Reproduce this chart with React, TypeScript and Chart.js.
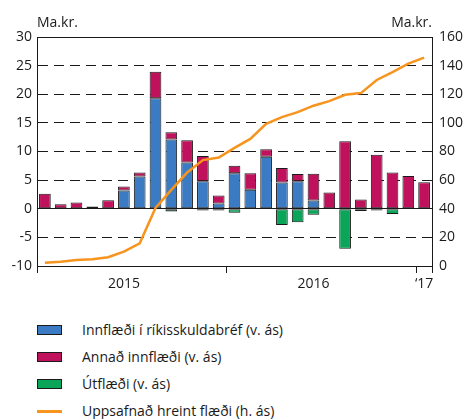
import React, { useEffect, useRef } from 'react';
import { Chart, registerables } from 'chart.js';

Chart.register(...registerables);

const FONT = '"Open Sans", "DejaVu Sans", sans-serif';

const months = [
  'jan 2015', 'feb 2015', 'mar 2015', 'apr 2015', 'maí 2015', 'jún 2015',
  'júl 2015', 'ágú 2015', 'sep 2015', 'okt 2015', 'nóv 2015', 'des 2015',
  'jan 2016', 'feb 2016', 'mar 2016', 'apr 2016', 'maí 2016', 'jún 2016',
  'júl 2016', 'ágú 2016', 'sep 2016', 'okt 2016', 'nóv 2016', 'des 2016',
  'jan 2017',
];

// x-axis year labels shown under the given month index
const yearTickIndex = [5, 17, 24];
const yearTickText = ['2015', '2016', '\u201817'];

// Left axis (v. ás), ma.kr.
const govBondInflow = [
  null, null, null, null, null, 3.2, 5.65, 19.3, 12.1, 8.1, 4.8, 0.9,
  6.2, 3.3, 9.1, 4.6, 4.8, 1.45, null, null, null, null, null, null, null,
];
const otherInflow = [
  2.6, 0.8, 1.1, 0.4, 1.5, 0.7, 0.7, 4.65, 1.25, 3.85, 4.4, 1.4,
  1.3, 2.9, 1.3, 2.5, 1.25, 4.65, 2.85, 11.8, 1.6, 9.45, 6.35, 5.7, 4.65,
];
const outflow = [
  null, null, null, null, null, null, null, null, -0.5, -0.1, -0.3, -0.3,
  -0.7, -0.1, -0.1, -2.85, -2.35, -1.05, -0.1, -7.0, -0.4, -0.3, -0.9, null, null,
];
// Right axis (h. ás), ma.kr.
const cumulativeNet = [
  2.3, 3.0, 4.2, 4.7, 6.1, 10.0, 15.9, 40.5, 53.2, 65.3, 74.0, 75.8,
  82.5, 88.8, 99.3, 104.0, 107.5, 112.0, 115.2, 119.6, 120.8, 130.0, 135.5, 141.4, 145.6,
];

const seriesNames = [
  'Innflæði í ríkisskuldabréf (v. ás)',
  'Annað innflæði (v. ás)',
  'Útflæði (v. ás)',
  'Uppsafnað hreint flæði (h. ás)',
];
const seriesColors = ['#3b7bc3', '#c0125c', '#0ba55a', '#f7941d'];

const unitLeft = 'Ma.kr.';
const unitRight = 'Ma.kr.';

export default function App() {
  const ref = useRef<HTMLCanvasElement>(null);

  useEffect(() => {
    const tickFont = { family: FONT, size: 14 };
    const unitPlugin = {
      id: 'units',
      afterDraw(chart: any) {
        const { ctx, chartArea } = chart;
        ctx.save();
        ctx.font = `14px ${FONT}`;
        ctx.fillStyle = '#1a1a1a';
        ctx.textBaseline = 'alphabetic';
        ctx.textAlign = 'left';
        ctx.fillText(unitLeft, chartArea.left, 27);
        ctx.textAlign = 'right';
        ctx.fillText(unitRight, chartArea.right, 27);
        ctx.restore();
      },
    };

    const barCommon = {
      type: 'bar' as const,
      borderColor: '#1a1a1a',
      borderWidth: 1,
      borderSkipped: false,
      barPercentage: 0.74,
      categoryPercentage: 1,
      yAxisID: 'y',
      order: 1,
    };

    const chart = new Chart(ref.current!, {
      type: 'bar',
      data: {
        labels: months,
        datasets: [
          {
            type: 'line' as const,
            label: seriesNames[3],
            data: cumulativeNet,
            borderColor: seriesColors[3],
            backgroundColor: seriesColors[3],
            borderWidth: 2.5,
            pointRadius: 0,
            tension: 0,
            yAxisID: 'y1',
            order: 0,
          } as any,
          { ...barCommon, label: seriesNames[0], data: govBondInflow, backgroundColor: seriesColors[0] },
          { ...barCommon, label: seriesNames[1], data: otherInflow, backgroundColor: seriesColors[1] },
          { ...barCommon, label: seriesNames[2], data: outflow, backgroundColor: seriesColors[2] },
        ],
      },
      options: {
        animation: false,
        responsive: true,
        maintainAspectRatio: false,
        layout: { padding: { top: 37, left: 0, right: 0, bottom: 0 } },
        plugins: {
          legend: { display: false },
          tooltip: { enabled: false },
        },
        scales: {
          x: {
            stacked: true,
            offset: true,
            grid: {
              offset: true,
              drawOnChartArea: false,
              drawTicks: true,
              tickLength: 7,
              color: (ctx: any) =>
                ctx.index === undefined || ctx.index === 0 || ctx.index === 12 || ctx.index === 24
                  ? '#1a1a1a'
                  : 'rgba(0,0,0,0)',
            },
            border: { display: true, color: '#1a1a1a', width: 1 },
            ticks: {
              autoSkip: false,
              maxRotation: 0,
              padding: 3,
              font: tickFont,
              color: '#1a1a1a',
              callback: (_v: any, i: number) => {
                const k = yearTickIndex.indexOf(i);
                return k >= 0 ? yearTickText[k] : '';
              },
            },
            afterFit: (s: any) => {
              s.height = 34;
            },
          },
          y: {
            stacked: true,
            position: 'left',
            min: -10,
            max: 30,
            ticks: { stepSize: 5, padding: 5, font: tickFont, color: '#1a1a1a' },
            grid: {
              drawTicks: false,
              lineWidth: 1,
              color: (ctx: any) => {
                const v = ctx.tick ? ctx.tick.value : null;
                if (v === -10) return 'rgba(0,0,0,0)';
                return '#1a1a1a';
              },
            },
            border: {
              display: true,
              color: '#1a1a1a',
              width: 1,
              dash: (ctx: any) => {
                const v = ctx.tick ? ctx.tick.value : null;
                return v === null || v === 0 || v === 30 ? [] : [10, 6];
              },
            },
            afterFit: (s: any) => {
              s.width = 37;
            },
          },
          y1: {
            position: 'right',
            min: 0,
            max: 160,
            ticks: { stepSize: 20, padding: 7, font: tickFont, color: '#1a1a1a' },
            grid: { drawOnChartArea: false, drawTicks: false },
            border: { display: true, color: '#1a1a1a', width: 1 },
            afterFit: (s: any) => {
              s.width = 34;
            },
          },
        },
      },
      plugins: [unitPlugin],
    } as any);

    return () => chart.destroy();
  }, []);

  const legendRows = [0, 1, 2, 3];

  return (
    <div
      style={{
        position: 'absolute',
        left: 0,
        top: 0,
        width: 466,
        height: 419,
        fontFamily: FONT,
        color: '#1a1a1a',
      }}
    >
      <div style={{ position: 'absolute', left: 0, top: 0, width: 466, height: 300 }}>
        <canvas ref={ref} />
      </div>
      {legendRows.map((i) => {
        const cy = 330 + 27 * i;
        return (
          <div key={i}>
            {i < 3 ? (
              <div
                style={{
                  position: 'absolute',
                  left: 37,
                  top: cy - 5,
                  width: 25,
                  height: 10,
                  boxSizing: 'border-box',
                  border: '1px solid #1a1a1a',
                  background: seriesColors[i],
                }}
              />
            ) : (
              <div
                style={{
                  position: 'absolute',
                  left: 37,
                  top: cy - 1,
                  width: 25,
                  height: 3,
                  background: seriesColors[i],
                }}
              />
            )}
            <div
              style={{
                position: 'absolute',
                left: 82,
                top: cy - 10,
                height: 20,
                lineHeight: '20px',
                fontSize: 14,
                whiteSpace: 'nowrap',
              }}
            >
              {seriesNames[i]}
            </div>
          </div>
        );
      })}
    </div>
  );
}
